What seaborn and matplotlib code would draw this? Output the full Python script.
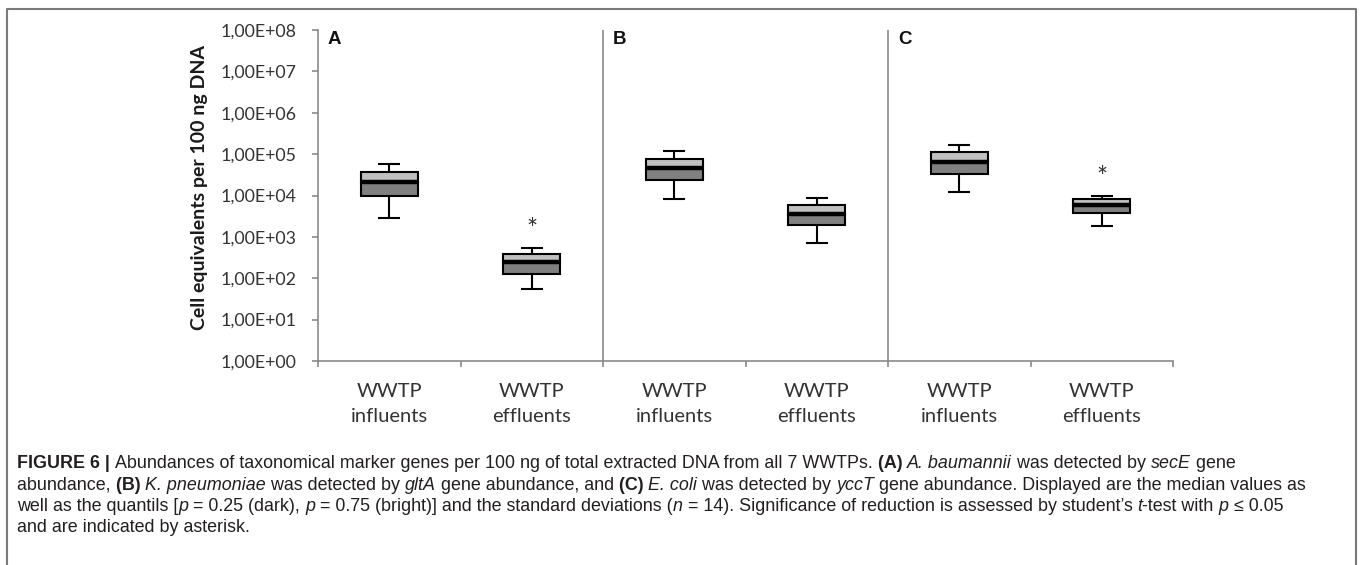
import matplotlib
matplotlib.use("Agg")
import matplotlib.pyplot as plt
import seaborn as sns
import numpy as np
import pandas as pd
from matplotlib import font_manager
from matplotlib.lines import Line2D
from matplotlib.ticker import FixedLocator, FixedFormatter, NullLocator, NullFormatter

# ---------------- data ----------------
groups = ["A influents", "A effluents", "B influents", "B effluents", "C influents", "C effluents"]
tick_labels = ["WWTP\ninfluents", "WWTP\neffluents",
               "WWTP\ninfluents", "WWTP\neffluents",
               "WWTP\ninfluents", "WWTP\neffluents"]
panel_letters = ["A", "B", "C"]
whisker_low = [2.9e3, 5.5e1, 8.3e3, 7.2e2, 1.2e4, 1.86e3]
q1 = [1.0e4, 1.3e2, 2.4e4, 1.9e3, 3.4e4, 3.8e3]
median = [2.1e4, 2.5e2, 4.6e4, 3.6e3, 6.5e4, 5.8e3]
q3 = [3.8e4, 3.9e2, 7.6e4, 5.9e3, 1.13e5, 8.1e3]
whisker_high = [5.9e4, 5.5e2, 1.2e5, 8.9e3, 1.66e5, 1.0e4]
significant = [False, True, False, False, False, True]
y_ticks = [1e0, 1e1, 1e2, 1e3, 1e4, 1e5, 1e6, 1e7, 1e8]
y_label = "Cell equivalents per 100 ng DNA"

caption_lines = [
    [("FIGURE 6 | ", "b"),
     ("Abundances of taxonomical marker genes per 100 ng of total extracted DNA from all 7 WWTPs. ", ""),
     ("(A) ", "b"), ("A. baumannii", "i"), (" was detected by ", ""), ("secE", "i"), (" gene", "")],
    [("abundance, ", ""), ("(B) ", "b"), ("K. pneumoniae", "i"), (" was detected by ", ""),
     ("gltA", "i"), (" gene abundance, and ", ""), ("(C) ", "b"), ("E. coli", "i"),
     (" was detected by ", ""), ("yccT", "i"),
     (" gene abundance. Displayed are the median values as", "")],
    [("well as the quantils [", ""), ("p", "i"), (" = 0.25 (dark), ", ""), ("p", "i"),
     (" = 0.75 (bright)] and the standard deviations (", ""), ("n", "i"),
     (" = 14). Significance of reduction is assessed by student\u2019s ", ""), ("t", "i"),
     ("-test with ", ""), ("p", "i"), (" \u2264 0.05", "")],
    [("and are indicated by asterisk.", "")],
]

# ---------------- style ----------------
sns.set_style("white")
plt.rcParams["font.family"] = ["Lato", "DejaVu Sans"]

W, H = 1360, 565
fig = plt.figure(figsize=(W / 100, H / 100), dpi=100)
fig.patch.set_facecolor("white")

AX_L, AX_R, AX_T, AX_B = 318, 1173, 30, 361
ax = fig.add_axes([AX_L / W, 1 - AX_B / H, (AX_R - AX_L) / W, (AX_B - AX_T) / H])
ax.set_yscale("log")

df = pd.DataFrame({
    "group": groups,
    "upper": np.array(q3) - np.array(median),
    "lower": np.array(median) - np.array(q1),
    "median": median,
})

AXIS_GRAY = "#8a8a8a"
TXT_GRAY = "#333333"

pos = np.arange(len(groups))
# whiskers (behind the boxes)
ax.errorbar(pos, median,
            yerr=[np.array(median) - np.array(whisker_low), np.array(whisker_high) - np.array(median)],
            fmt="none", ecolor="black", elinewidth=1.5, capsize=8, capthick=1.5, zorder=0.5)

# lower (dark) part of box: q1 -> median
sns.barplot(data=df, x="group", y="lower", order=groups, bottom=np.array(q1),
            color="#808080", edgecolor="black", linewidth=1.5, width=0.4,
            errorbar=None, saturation=1, ax=ax, zorder=2)
# upper (bright) part of box: median -> q3
sns.barplot(data=df, x="group", y="upper", order=groups, bottom=np.array(median),
            color="#c0c0c0", edgecolor="black", linewidth=1.5, width=0.4,
            errorbar=None, saturation=1, ax=ax, zorder=2)
# median line
sns.pointplot(data=df, x="group", y="median", order=groups, linestyle="none",
              marker="_", markersize=41, markeredgewidth=3.2, color="black",
              errorbar=None, ax=ax, zorder=3)

# asterisks
for i, sig in enumerate(significant):
    if sig:
        ax.annotate("*", xy=(i, whisker_high[i]), xytext=(0, 17), textcoords="offset pixels",
                    ha="center", va="center", fontsize=19, color="#333333", zorder=4)

# axes
ax.set_xlim(-0.5, len(groups) - 0.5)
ax.set_ylim(y_ticks[0], y_ticks[-1])
ax.set_xlabel("")
ax.set_ylabel("")
for s in ["top", "right"]:
    ax.spines[s].set_visible(False)
for s in ["left", "bottom"]:
    ax.spines[s].set_color(AXIS_GRAY)
    ax.spines[s].set_linewidth(1.2)

ax.yaxis.set_major_locator(FixedLocator(y_ticks))
ax.yaxis.set_major_formatter(FixedFormatter([f"{v:.2E}".replace(".", ",") for v in y_ticks]))
ax.yaxis.set_minor_locator(NullLocator())
ax.tick_params(axis="y", which="major", direction="out", length=4.3, width=1.2, color=AXIS_GRAY,
               labelsize=12.8, labelcolor=TXT_GRAY, pad=11, left=True)

ax.xaxis.set_major_locator(FixedLocator(np.arange(-0.5, len(groups), 1.0)))
ax.xaxis.set_major_formatter(NullFormatter())
ax.xaxis.set_minor_locator(FixedLocator(pos))
ax.xaxis.set_minor_formatter(FixedFormatter(tick_labels))
ax.tick_params(axis="x", which="major", direction="out", length=4.3, width=1.2, color=AXIS_GRAY, bottom=True)
ax.tick_params(axis="x", which="minor", length=0, labelsize=14.5, labelcolor=TXT_GRAY, pad=16, bottom=True)
for lab in ax.get_xticklabels(minor=True):
    lab.set_linespacing(1.55)

# panel separators and letters
for k in range(1, len(panel_letters)):
    ax.vlines(2 * k - 0.5, y_ticks[0], y_ticks[-1], color=AXIS_GRAY, lw=1.2, zorder=1)
for k, letter in enumerate(panel_letters):
    ax.annotate(letter, xy=(2 * k - 0.5, y_ticks[-1]), xytext=(10, -1), textcoords="offset pixels",
                ha="left", va="top", fontsize=13.5, fontweight="bold",
                family=["Liberation Sans", "DejaVu Sans"], color="#111111")

# y label
fig.text(200 / W, 1 - 188 / H, y_label, rotation=90, ha="center", va="center",
         fontsize=14, fontweight="bold", color="#1a1a1a")

# outer frame
fig.add_artist(Line2D([7 / W, 7 / W, 1356 / W, 1356 / W], [0, 1 - 9 / H, 1 - 9 / H, 0],
                      transform=fig.transFigure, color="#7a7a7a", lw=1.5))

# ---------------- caption ----------------
def has_font(name):
    try:
        font_manager.findfont(font_manager.FontProperties(family=name), fallback_to_default=False)
        return True
    except Exception:
        return False

CAP_FONT = "Liberation Sans Narrow" if has_font("Liberation Sans Narrow") else "Liberation Sans"
renderer = fig.canvas.get_renderer()

def run_props(style, size):
    return dict(fontsize=size, family=[CAP_FONT, "DejaVu Sans"],
                fontweight="bold" if "b" in style else "normal",
                fontstyle="italic" if "i" in style else "normal")

def run_width(text, style, size):
    t = fig.text(0, 0, text + "|", **run_props(style, size))
    w1 = t.get_window_extent(renderer).width
    t.set_text("|")
    w2 = t.get_window_extent(renderer).width
    t.remove()
    return w1 - w2

def line_width(runs, size):
    return sum(run_width(txt, st, size) for txt, st in runs)

test = 10.0
cap_size = test * (1310 - 17) / line_width(caption_lines[1], test)

baselines = [468, 490, 511, 532]
for runs, yb in zip(caption_lines, baselines):
    x = 17
    for txt, st in runs:
        fig.text(x / W, 1 - yb / H, txt, ha="left", va="baseline", color="#231f20",
                 **run_props(st, cap_size))
        x += run_width(txt, st, cap_size)

fig.savefig("out.png", dpi=100)
